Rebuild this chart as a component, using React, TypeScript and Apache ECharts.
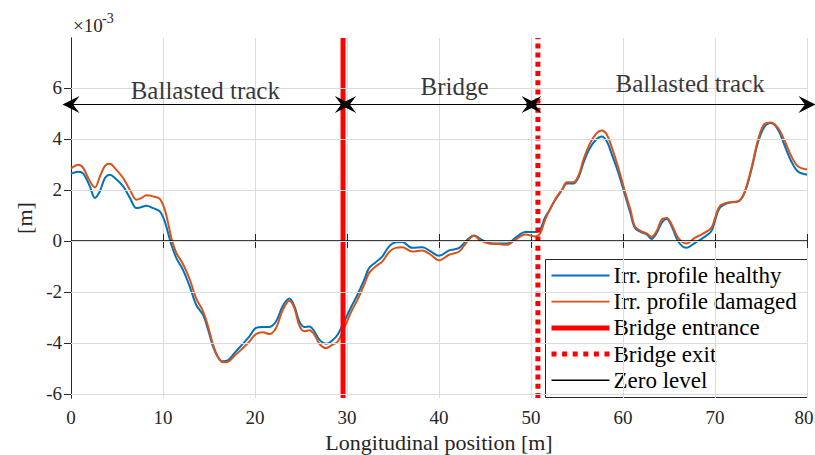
import React, { useEffect, useRef } from "react";
import * as echarts from "echarts";

// Longitudinal positions [m]
const xs = [
  0, 0.8, 1.34, 2.05, 2.6, 3.14, 3.69, 4.23, 4.77, 5.67,
  6.4, 7.12, 7.66, 8.2, 8.92, 9.65, 10.19, 10.55, 10.91, 11.45,
  12.17, 12.9, 13.6, 14.34, 14.9, 15.43, 15.97, 16.5, 17.05, 17.78,
  18.5, 19.4, 20.1, 20.85, 21.57, 22.3, 23.0, 23.74, 24.28, 24.82,
  25.37, 25.9, 26.45, 27.0, 27.72, 28.4, 29.0, 29.7, 30.4, 31.15,
  31.87, 32.4, 33.1, 33.85, 34.58, 35.3,
  36.0, 37.1, 38.2, 39.1, 40.0, 41.1, 42.2, 43.07, 43.8, 44.5,
  45.4, 46.5, 47.4, 48.3, 49.4, 50.5, 51.0, 51.5, 52.0, 52.65,
  53.4, 53.9, 54.6, 55.2, 55.7, 56.26, 57.0, 57.7, 58.25, 58.8,
  59.5, 60.2, 60.8, 61.3, 62.0, 62.6, 63.1, 63.7, 64.2, 64.75,
  65.3, 66.0, 66.9, 67.8, 68.7, 69.6, 70.0, 70.5, 71.4, 72.5,
  73.2, 73.96, 74.7, 75.4, 76.1, 76.86, 77.6, 78.3, 79.0, 80.0,
];

// Irregularity profile, healthy [x 1e-3 m]
const healthy = [
  2.64, 2.72, 2.64, 2.14, 1.69, 1.95, 2.47, 2.6, 2.47, 2.14,
  1.69, 1.29, 1.33, 1.38, 1.29, 1.16, 0.77, 0.31, -0.15, -0.67,
  -1.13, -1.78, -2.5, -2.89, -3.48, -4.13, -4.55, -4.72, -4.68, -4.39,
  -4.1, -3.74, -3.41, -3.37, -3.37, -3.15, -2.56, -2.26, -2.56, -3.15,
  -3.37, -3.35, -3.54, -3.87, -4.03, -3.9, -3.67, -3.15, -2.63, -2.1,
  -1.52, -1.06, -0.84, -0.6, -0.21, -0.05,
  -0.04, -0.27, -0.25, -0.41, -0.58, -0.37, -0.27, 0.05, 0.22, 0.08,
  -0.08, -0.1, -0.1, 0.12, 0.35, 0.35, 0.45, 0.9, 1.2, 1.62,
  2.01, 2.25, 2.25, 2.53, 3.06, 3.55, 3.95, 4.1, 3.9, 3.38,
  2.67, 1.82, 1.1, 0.51, 0.34, 0.25, 0.08, 0.34, 0.71, 0.86,
  0.57, -0.02, -0.27, -0.08, 0.12, 0.38, 0.8, 1.29, 1.49, 1.55,
  1.88, 2.8, 3.9, 4.49, 4.63, 4.36, 3.71, 3.12, 2.73, 2.6,
];

// Irregularity profile, damaged [x 1e-3 m]
const damaged = [
  2.84, 2.99, 2.86, 2.34, 2.1, 2.53, 2.95, 3.03, 2.86, 2.47,
  2.01, 1.62, 1.69, 1.79, 1.75, 1.65, 1.23, 0.71, 0.12, -0.47,
  -0.9, -1.5, -2.25, -2.75, -3.35, -4.05, -4.55, -4.76, -4.74, -4.5,
  -4.26, -3.94, -3.65, -3.58, -3.65, -3.4, -2.72, -2.34, -2.63, -3.32,
  -3.54, -3.5, -3.67, -4.03, -4.2, -4.07, -3.94, -3.41, -2.82, -2.3,
  -1.71, -1.25, -1.0, -0.8, -0.43, -0.27,
  -0.25, -0.41, -0.37, -0.54, -0.76, -0.54, -0.41, -0.02, 0.21, 0.02,
  -0.1, -0.12, -0.15, 0.05, 0.25, 0.18, 0.3, 0.8, 1.2, 1.65,
  2.04, 2.3, 2.3, 2.6, 3.19, 3.71, 4.17, 4.33, 4.17, 3.65,
  2.86, 1.95, 1.23, 0.57, 0.38, 0.29, 0.16, 0.42, 0.84, 0.9,
  0.64, 0.12, -0.1, 0.12, 0.29, 0.51, 0.9, 1.36, 1.51, 1.55,
  1.91, 2.86, 4.0, 4.6, 4.65, 4.43, 3.9, 3.32, 2.93, 2.8,
];

const yTicks = [-6, -4, -2, 0, 2, 4, 6];
const Y_MIN = -6.157;
const Y_MAX = 7.96;
const X_MIN = 0;
const X_MAX = 80;

const bridgeEntrance = 29.57;
const bridgeExit = 50.75;

// Double arrows: [start, end]
const arrowY = 5.35;
const arrowSpans = [
  [0, 29.6],
  [30.08, 49.9],
  [50.2, 80],
];

// Region labels: [x, y, text]
const regionLabels: [number, number, string][] = [
  [14.6, 5.92, "Ballasted track"],
  [41.7, 6.06, "Bridge"],
  [67.3, 6.17, "Ballasted track"],
];

const legendNames = [
  "Irr. profile healthy",
  "Irr. profile damaged",
  "Bridge entrance",
  "Bridge exit",
  "Zero level",
];

const FONT = '"Liberation Serif", serif';
const AX = "#262626";
const BLUE = "#0072BD";
const ORANGE = "#D95319";
const RED = "#FF0000";

export default function App() {
  const ref = useRef<HTMLDivElement>(null);
  useEffect(() => {
    if (!ref.current) return;
    const chart = echarts.init(ref.current, undefined, { renderer: "svg" });
    const pts = (ys: number[]) => xs.map((x, i) => [x, ys[i]]);
    const arrowPath = "path://M50,0 L100,100 L50,62 L0,100 Z";

    const legendStyles = [
      { stroke: BLUE, lineWidth: 1.8 },
      { stroke: ORANGE, lineWidth: 1.8 },
      { stroke: RED, lineWidth: 5 },
      { stroke: RED, lineWidth: 5, lineDash: [5, 5.6], lineCap: "butt" },
      { stroke: "#000", lineWidth: 1.5 },
    ];
    const LW = 262;
    const LH = 138;
    const legendChildren: any[] = [
      {
        type: "rect",
        shape: { x: 0, y: 0, width: LW, height: LH },
        style: { fill: "#fff", stroke: AX, lineWidth: 1 },
      },
    ];
    legendNames.forEach((name, i) => {
      const cy = 16 + 26.2 * i;
      legendChildren.push({
        type: "line",
        shape: { x1: 6, y1: cy, x2: 64, y2: cy },
        style: legendStyles[i],
      });
      legendChildren.push({
        type: "text",
        x: 68,
        y: cy,
        style: {
          text: name,
          font: `23px ${FONT}`,
          fill: "#000",
          verticalAlign: "middle",
          align: "left",
        },
      });
    });

    chart.setOption({
      animation: false,
      textStyle: { fontFamily: FONT },
      grid: {
        left: 71,
        right: 8,
        top: 38,
        bottom: 57,
        containLabel: false,
        outerBoundsMode: "none",
      },
      xAxis: [
        {
          type: "value",
          min: X_MIN,
          max: X_MAX,
          interval: 10,
          name: "Longitudinal position [m]",
          nameLocation: "middle",
          nameGap: 31,
          nameTextStyle: { fontFamily: FONT, fontSize: 22, color: AX },
          axisLine: { show: true, lineStyle: { color: AX, width: 1 } },
          axisTick: { show: true, inside: true, length: 7, lineStyle: { color: AX } },
          axisLabel: {
            fontFamily: FONT,
            fontSize: 19,
            color: AX,
            margin: 10,
            formatter: (v: number) => (v === X_MAX ? `{m|${v}}` : `${v}`),
            rich: { m: { fontFamily: FONT, fontSize: 19, color: AX, padding: [0, 6, 0, 0] } },
          },
          splitLine: { show: true, lineStyle: { color: "#dcdcdc", width: 1 } },
        },
        {
          type: "value",
          position: "top",
          min: X_MIN,
          max: X_MAX,
          interval: 10,
          axisLine: { show: true, lineStyle: { color: AX, width: 1 } },
          axisTick: { show: true, inside: true, length: 7, lineStyle: { color: AX } },
          axisLabel: { show: false },
          splitLine: { show: false },
        },
      ],
      yAxis: [
        {
          type: "value",
          min: Y_MIN,
          max: Y_MAX,
          name: "[m]",
          nameLocation: "middle",
          nameGap: 36,
          nameRotate: 90,
          nameTextStyle: { fontFamily: FONT, fontSize: 22, color: AX },
          axisLine: { show: true, lineStyle: { color: AX, width: 1 } },
          axisTick: { show: true, inside: true, length: 7, customValues: yTicks, lineStyle: { color: AX } },
          axisLabel: { fontFamily: FONT, fontSize: 19, color: AX, margin: 9, customValues: yTicks },
          splitLine: { show: false },
        },
        {
          type: "value",
          position: "right",
          min: Y_MIN,
          max: Y_MAX,
          axisLine: { show: true, lineStyle: { color: AX, width: 1 } },
          axisTick: { show: true, inside: true, length: 7, customValues: yTicks, lineStyle: { color: AX } },
          axisLabel: { show: false },
          splitLine: { show: false },
        },
      ],
      graphic: [
        { type: "text", left: 73, top: 16, style: { text: "×10", font: `19px ${FONT}`, fill: AX } },
        { type: "text", left: 102, top: 11, style: { text: "-3", font: `14px ${FONT}`, fill: AX } },
        { type: "group", left: 545, top: 259, z: 100, children: legendChildren },
      ],
      series: [
        {
          name: "_grid",
          type: "line",
          data: [[0, 0]],
          symbol: "none",
          lineStyle: { opacity: 0 },
          z: 1,
          silent: true,
          markLine: {
            silent: true,
            symbol: "none",
            label: { show: false },
            lineStyle: { color: "#dcdcdc", width: 1, type: "solid" },
            emphasis: { disabled: true },
            data: yTicks.map((v) => ({ yAxis: v })),
          },
        },
        {
          name: legendNames[0],
          type: "line",
          data: pts(healthy),
          symbol: "none",
          smooth: 0.35,
          lineStyle: { color: BLUE, width: 2 },
          itemStyle: { color: BLUE },
          z: 3,
        },
        {
          name: legendNames[1],
          type: "line",
          data: pts(damaged),
          symbol: "none",
          smooth: 0.35,
          lineStyle: { color: ORANGE, width: 2 },
          itemStyle: { color: ORANGE },
          z: 3,
        },
        {
          name: legendNames[2],
          type: "line",
          data: [
            [bridgeEntrance, Y_MIN],
            [bridgeEntrance, Y_MAX],
          ],
          symbol: "none",
          lineStyle: { color: RED, width: 5 },
          itemStyle: { color: RED },
          z: 4,
        },
        {
          name: legendNames[3],
          type: "line",
          data: [
            [bridgeExit, Y_MIN],
            [bridgeExit, Y_MAX],
          ],
          symbol: "none",
          lineStyle: { color: RED, width: 5, type: [5, 4.2], cap: "butt" },
          itemStyle: { color: RED },
          z: 4,
        },
        {
          name: legendNames[4],
          type: "line",
          data: [
            [X_MIN, 0],
            [X_MAX, 0],
          ],
          symbol: "none",
          lineStyle: { color: "#000000", width: 1.5 },
          itemStyle: { color: "#000000" },
          z: 4,
        },
        {
          name: "_arrows",
          type: "line",
          data: [[0, arrowY]],
          symbol: "none",
          lineStyle: { opacity: 0 },
          z: 5,
          silent: true,
          markLine: {
            silent: true,
            symbol: [arrowPath, arrowPath],
            symbolSize: 17,
            label: { show: false },
            lineStyle: { color: "#000", width: 1, type: "solid" },
            emphasis: { disabled: true },
            data: arrowSpans.map((s) => [{ coord: [s[0], arrowY] }, { coord: [s[1], arrowY] }]),
          },
        },
        {
          name: "_labels",
          type: "scatter",
          data: regionLabels.map((r) => [r[0], r[1], r[2]]),
          symbolSize: 1,
          itemStyle: { color: "rgba(0,0,0,0)" },
          silent: true,
          z: 5,
          label: {
            show: true,
            position: "inside",
            formatter: (p: any) => p.value[2],
            fontFamily: FONT,
            fontSize: 25,
            color: "#000",
          },
        },
      ],
    });
    return () => chart.dispose();
  }, []);
  return (
    <div
      ref={ref}
      style={{ position: "fixed", left: 0, top: 0, width: 815, height: 455, background: "#fff" }}
    />
  );
}
